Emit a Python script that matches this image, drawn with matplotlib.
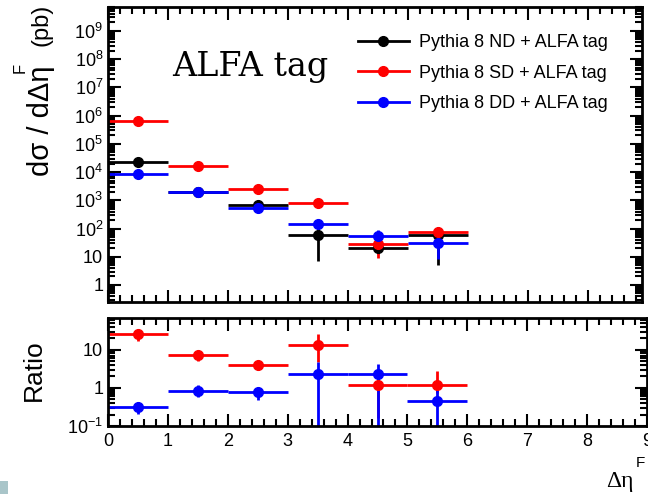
import numpy as np
import matplotlib
matplotlib.use("Agg")
import matplotlib.pyplot as plt
from matplotlib.ticker import LogLocator, MultipleLocator, FuncFormatter, NullFormatter
from matplotlib.patches import Rectangle
from matplotlib.lines import Line2D

plt.rcParams['font.family'] = ['Liberation Sans', 'DejaVu Sans']
plt.rcParams['mathtext.fontset'] = 'custom'
plt.rcParams['mathtext.rm'] = 'Liberation Sans'
plt.rcParams['mathtext.it'] = 'Liberation Sans'

# ---- data ----
bin_centers = [0.5, 1.5, 2.5, 3.5, 4.5, 5.5]
bin_halfwidth = [0.5, 0.5, 0.5, 0.5, 0.5, 0.5]

nd_vals = [2.3e4, 2040, 700, 57, 21, 60]
nd_err = [1500, 150, 60, 50, 8, 55]
sd_vals = [6.3e5, 1.6e4, 2500, 800, 28, 74]
sd_err = [3e4, 1000, 200, 70, 19, 28]
dd_vals = [8500, 2040, 515, 150, 54, 31]
dd_err = [600, 150, 50, 25, 37, 23]

sd_ratio = [26, 7.3, 3.9, 13.5, 1.22, 1.22]
sd_ratio_lo = [9.5, 2.1, 1.0, 8.8, 1.06, 0.5]
sd_ratio_hi = [7, 1.7, 1.3, 12.5, 1.3, 1.6]
dd_ratio = [0.316, 0.85, 0.78, 2.34, 2.34, 0.455]
dd_ratio_lo = [0.106, 0.29, 0.31, 2.3399, 2.3399, 0.4549]
dd_ratio_hi = [0.11, 0.35, 0.22, 2.3, 2.0, 0.65]

labels = ["Pythia 8 ND + ALFA tag", "Pythia 8 SD + ALFA tag", "Pythia 8 DD + ALFA tag"]
colors = ["black", "#ff0000", "#0000ff"]

W, H = 648, 494
fig = plt.figure(figsize=(W/100, H/100), dpi=100)

def px_axes(l, r, t, b):
    return fig.add_axes([l/W, (H-b)/H, (r-l)/W, (b-t)/H])

ax1 = px_axes(108, 642, 7, 302)
ax2 = px_axes(108, 647, 318, 426)

ekw = dict(fmt='o', markersize=7, elinewidth=2, capsize=0, linestyle='none')

for vals, err, c in zip([nd_vals, sd_vals, dd_vals], [nd_err, sd_err, dd_err], colors):
    ax1.errorbar(bin_centers, vals, xerr=bin_halfwidth, yerr=err, color=c, **ekw)

for vals, lo, hi, c in zip([sd_ratio, dd_ratio], [sd_ratio_lo, dd_ratio_lo], [sd_ratio_hi, dd_ratio_hi], colors[1:]):
    ax2.errorbar(bin_centers, vals, xerr=bin_halfwidth, yerr=[lo, hi], color=c, **ekw)

ax1.set_yscale('log')
ax1.set_ylim(0.25, 7e9)
ax1.set_xlim(0, 534/60)
ax2.set_yscale('log')
ax2.set_ylim(0.1, 68)
ax2.set_xlim(0, 9)

def logfmt(v, pos):
    e = int(round(np.log10(v)))
    if e == 0:
        return "1"
    if e == 1:
        return "10"
    return r"$10^{%d}$" % e

for ax in (ax1, ax2):
    ax.yaxis.set_major_locator(LogLocator(base=10, numticks=20))
    ax.yaxis.set_minor_locator(LogLocator(base=10, subs=np.arange(2, 10), numticks=20))
    ax.yaxis.set_major_formatter(FuncFormatter(logfmt))
    ax.yaxis.set_minor_formatter(NullFormatter())
    ax.xaxis.set_major_locator(MultipleLocator(1))
    ax.xaxis.set_minor_locator(MultipleLocator(0.2))
    ax.tick_params(which='both', direction='in', top=True, right=True, width=1.5, labelsize=13)
    ax.tick_params(which='major', length=9)
    ax.tick_params(which='minor', length=5)
    for s in ax.spines.values():
        s.set_linewidth(2)

ax1.tick_params(axis='x', labelbottom=False)
ax2.tick_params(axis='x', pad=5)

handles = [Line2D([], [], color=c, marker='o', markersize=7, linewidth=2) for c in colors]
leg = ax1.legend(handles, labels, loc='upper left', bbox_to_anchor=(349/W, (H-25)/H),
                 bbox_transform=fig.transFigure, frameon=False, fontsize=13,
                 handlelength=2.8, handletextpad=0.55, labelspacing=0.76, borderpad=0)

fig.text(172/W, (H-67)/H, "ALFA tag", family=['DejaVu Serif'], fontsize=24,
         ha='left', va='center')

# y-axis label
fig.text(41/W, (H-176)/H, "dσ / dΔη", rotation=90, fontsize=21, ha='center', va='bottom')
fig.text(41/W, (H-46)/H, "(pb)", rotation=90, fontsize=17, ha='center', va='bottom')
fig.text(20/W, (H-68)/H, "F", rotation=90, fontsize=12, ha='center', va='center')
fig.text(34/W, (H-370)/H, "Ratio", rotation=90, fontsize=19, ha='center', va='center')

# x-axis label
fig.text(620/W, (H-481)/H, "Δη", family=['Liberation Serif', 'DejaVu Serif'], fontsize=17,
         ha='center', va='center')
fig.text(640/W, (H-463)/H, "F", fontsize=11, ha='center', va='center')

fig.patches.append(Rectangle((0, 0), 8/W, 13/H, transform=fig.transFigure,
                             facecolor='#a9c5c9', edgecolor='none'))

fig.savefig("out.png", dpi=100)
